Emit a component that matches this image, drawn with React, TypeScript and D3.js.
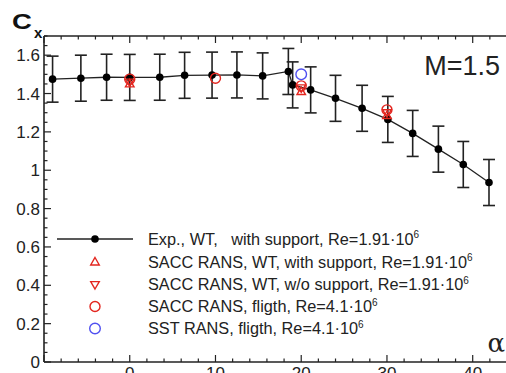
import { useEffect, useRef } from 'react';
import * as d3 from 'd3';

// experiment, wind tunnel with support
const expAlpha = [-9, -5.7, -2.7, 0, 3.5, 6.4, 9.6, 12.5, 15.5, 18.5, 19, 21.1, 24, 27.1, 30.1, 33, 36, 38.9, 41.9];
const expCx = [1.475, 1.48, 1.485, 1.484, 1.485, 1.495, 1.496, 1.497, 1.492, 1.515, 1.445, 1.419, 1.375, 1.323, 1.265, 1.192, 1.11, 1.03, 0.936];
const expErr = [0.12, 0.12, 0.12, 0.12, 0.12, 0.12, 0.12, 0.12, 0.12, 0.12, 0.12, 0.12, 0.12, 0.12, 0.12, 0.12, 0.12, 0.12, 0.12];

const saccWtAlpha = [0, 20, 30];
const saccWtCx = [1.45, 1.41, 1.285];
const saccNoSupAlpha = [0, 20, 30];
const saccNoSupCx = [1.46, 1.43, 1.3];
const saccFlAlpha = [0, 10, 20, 30];
const saccFlCx = [1.475, 1.48, 1.44, 1.315];
const sstFlAlpha = [20];
const sstFlCx = [1.5];

const xTicks = [0, 10, 20, 30, 40];
const yTicks = [0, 0.2, 0.4, 0.6, 0.8, 1, 1.2, 1.4, 1.6];

const legendLabels = [
  ['Exp., WT,   with support, Re=1.91\u00b710', '6'],
  ['SACC RANS, WT, with support, Re=1.91\u00b710', '6'],
  ['SACC RANS, WT, w/o support, Re=1.91\u00b710', '6'],
  ['SACC RANS, fligth, Re=4.1\u00b710', '6'],
  ['SST RANS, fligth, Re=4.1\u00b710', '6'],
];

const RED = '#e3261f';
const BLUE = '#5050f0';
const INK = '#222';
const FONT = 'Liberation Sans, Arial, sans-serif';

export default function App() {
  const svgRef = useRef<SVGSVGElement | null>(null);

  useEffect(() => {
    if (!svgRef.current) return;
    const svg = d3.select(svgRef.current);
    svg.selectAll('*').remove();

    const x = d3.scaleLinear().domain([-10, 44]).range([44, 507]);
    const y = d3.scaleLinear().domain([0, 1.7]).range([362, 36]);

    const triUp = (cx: number, cy: number, s: number) =>
      `M${cx},${cy - s}L${cx + s * 0.95},${cy + s * 0.65}L${cx - s * 0.95},${cy + s * 0.65}Z`;
    const triDown = (cx: number, cy: number, s: number) =>
      `M${cx},${cy + s}L${cx + s * 0.95},${cy - s * 0.65}L${cx - s * 0.95},${cy - s * 0.65}Z`;

    // axes frame
    const g = svg.append('g');
    g.append('line').attr('x1', x(-10)).attr('x2', 506).attr('y1', y(0)).attr('y2', y(0))
      .attr('stroke', INK).attr('stroke-width', 1.6);
    g.append('line').attr('x1', x(-10)).attr('x2', 506).attr('y1', y(1.7)).attr('y2', y(1.7))
      .attr('stroke', INK).attr('stroke-width', 1.6);
    g.append('line').attr('x1', x(-10)).attr('x2', x(-10)).attr('y1', y(0)).attr('y2', y(1.7))
      .attr('stroke', INK).attr('stroke-width', 1.6);

    // x ticks, bottom and top (inward)
    d3.range(-10, 45, 2).forEach(v => {
      const len = v % 10 === 0 ? 7 : 3.5;
      g.append('line').attr('x1', x(v)).attr('x2', x(v)).attr('y1', y(0)).attr('y2', y(0) - len)
        .attr('stroke', INK).attr('stroke-width', 1.2);
      g.append('line').attr('x1', x(v)).attr('x2', x(v)).attr('y1', y(1.7)).attr('y2', y(1.7) + len)
        .attr('stroke', INK).attr('stroke-width', 1.2);
    });
    // y ticks, left (inward)
    d3.range(0, 35).forEach(k => {
      const v = k * 0.05;
      const len = k % 4 === 0 ? 7 : 3.5;
      g.append('line').attr('x1', x(-10)).attr('x2', x(-10) + len).attr('y1', y(v)).attr('y2', y(v))
        .attr('stroke', INK).attr('stroke-width', 1.2);
    });

    g.selectAll('.xl').data(xTicks).join('text')
      .attr('x', d => x(d)).attr('y', 379).attr('text-anchor', 'middle')
      .attr('font-family', FONT).attr('font-size', 17).attr('fill', INK)
      .text(d => String(d));
    g.selectAll('.yl').data(yTicks).join('text')
      .attr('x', 40).attr('y', d => y(d) + 6).attr('text-anchor', 'end')
      .attr('font-family', FONT).attr('font-size', 17).attr('fill', INK)
      .text(d => String(d));

    // axis titles
    svg.append('text').attr('transform', 'translate(12,29) scale(1.25,1)')
      .attr('font-family', FONT).attr('font-weight', 'bold').attr('font-size', 22).attr('fill', '#111')
      .text('C');
    svg.append('text').attr('x', 34).attr('y', 38)
      .attr('font-family', FONT).attr('font-weight', 'bold').attr('font-size', 15).attr('fill', '#111')
      .text('x');
    svg.append('text').attr('x', 505).attr('y', 352).attr('text-anchor', 'end')
      .attr('font-family', 'DejaVu Serif, Liberation Serif, serif').attr('font-size', 26).attr('fill', INK)
      .text('\u03b1');
    svg.append('text').attr('x', 500).attr('y', 75).attr('text-anchor', 'end')
      .attr('font-family', FONT).attr('font-size', 27).attr('fill', INK).text('M=1.5');

    // experiment
    const exp = expAlpha.map((a, i) => ({ a, c: expCx[i], e: expErr[i] }));
    svg.append('path').datum(exp)
      .attr('d', d3.line<typeof exp[0]>().x(d => x(d.a)).y(d => y(d.c)))
      .attr('fill', 'none').attr('stroke', INK).attr('stroke-width', 1.3);
    const eb = svg.append('g').attr('stroke', INK).attr('stroke-width', 1.6);
    exp.forEach(d => {
      eb.append('line').attr('x1', x(d.a)).attr('x2', x(d.a)).attr('y1', y(d.c - d.e)).attr('y2', y(d.c + d.e));
      eb.append('line').attr('x1', x(d.a) - 6).attr('x2', x(d.a) + 6).attr('y1', y(d.c - d.e)).attr('y2', y(d.c - d.e));
      eb.append('line').attr('x1', x(d.a) - 6).attr('x2', x(d.a) + 6).attr('y1', y(d.c + d.e)).attr('y2', y(d.c + d.e));
    });
    svg.append('g').selectAll('circle').data(exp).join('circle')
      .attr('cx', d => x(d.a)).attr('cy', d => y(d.c)).attr('r', 3.8).attr('fill', '#000');

    // CFD
    svg.append('g').selectAll('path').data(saccWtAlpha.map((a, i) => [a, saccWtCx[i]])).join('path')
      .attr('d', d => triUp(x(d[0]), y(d[1]), 4.5))
      .attr('fill', 'none').attr('stroke', RED).attr('stroke-width', 1.4);
    svg.append('g').selectAll('path').data(saccNoSupAlpha.map((a, i) => [a, saccNoSupCx[i]])).join('path')
      .attr('d', d => triDown(x(d[0]), y(d[1]), 4.5))
      .attr('fill', 'none').attr('stroke', RED).attr('stroke-width', 1.4);
    svg.append('g').selectAll('circle').data(saccFlAlpha.map((a, i) => [a, saccFlCx[i]])).join('circle')
      .attr('cx', d => x(d[0])).attr('cy', d => y(d[1])).attr('r', 5)
      .attr('fill', 'none').attr('stroke', RED).attr('stroke-width', 1.4);
    svg.append('g').selectAll('circle').data(sstFlAlpha.map((a, i) => [a, sstFlCx[i]])).join('circle')
      .attr('cx', d => x(d[0])).attr('cy', d => y(d[1])).attr('r', 5.3)
      .attr('fill', 'none').attr('stroke', BLUE).attr('stroke-width', 1.4);

    // legend
    const leg = svg.append('g');
    const rowY = [239, 262, 284.5, 306.5, 328.5];
    leg.append('line').attr('x1', 57).attr('x2', 133).attr('y1', rowY[0]).attr('y2', rowY[0])
      .attr('stroke', INK).attr('stroke-width', 1.3);
    leg.append('circle').attr('cx', 95).attr('cy', rowY[0]).attr('r', 3.8).attr('fill', '#000');
    leg.append('path').attr('d', triUp(95, rowY[1], 4.5)).attr('fill', 'none').attr('stroke', RED).attr('stroke-width', 1.4);
    leg.append('path').attr('d', triDown(95, rowY[2], 4.5)).attr('fill', 'none').attr('stroke', RED).attr('stroke-width', 1.4);
    leg.append('circle').attr('cx', 95).attr('cy', rowY[3]).attr('r', 5).attr('fill', 'none').attr('stroke', RED).attr('stroke-width', 1.4);
    leg.append('circle').attr('cx', 95).attr('cy', rowY[4]).attr('r', 5.3).attr('fill', 'none').attr('stroke', BLUE).attr('stroke-width', 1.4);
    legendLabels.forEach((l, i) => {
      const t = leg.append('text').attr('x', 148).attr('y', rowY[i] + 5.5)
        .attr('font-family', FONT).attr('font-size', 16.3).attr('fill', INK)
        .style('white-space', 'pre');
      t.append('tspan').text(l[0]);
      t.append('tspan').attr('font-size', 10).attr('dy', -6.5).text(l[1]);
    });
  }, []);

  return (
    <svg ref={svgRef} width={506} height={373}
      style={{ position: 'absolute', left: 0, top: 0, background: '#fff' }} />
  );
}
